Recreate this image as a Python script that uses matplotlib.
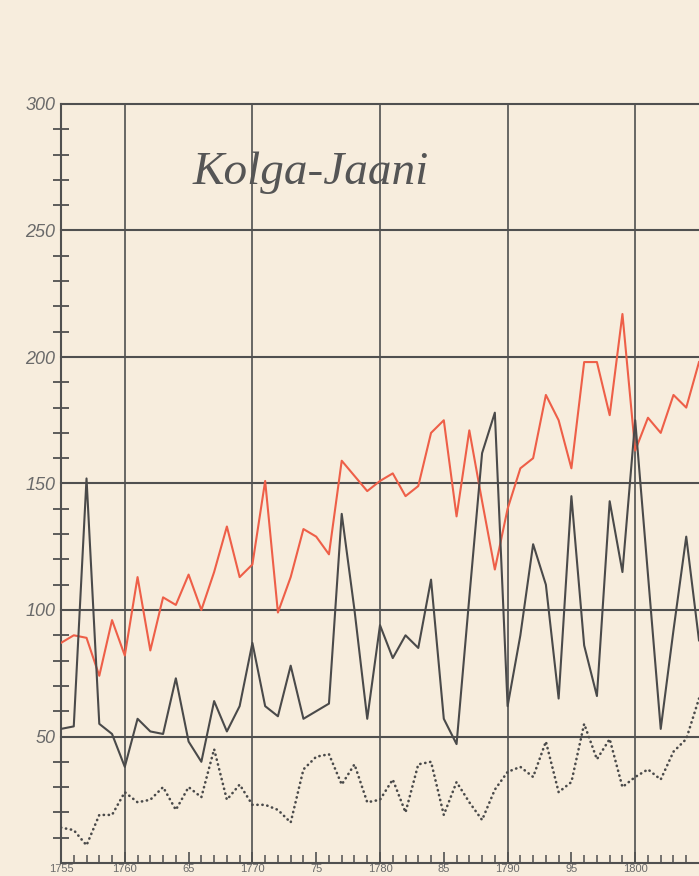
#Kolga-Jaani: yearly series 1755-1805, recreated from an old printed chart

#Libraries
import numpy as np
import matplotlib
matplotlib.use('Agg')
import matplotlib.pyplot as plt

#Data
years=list(range(1755,1806))
red=[87,90,89,74,96,82,113,84,105,102,
     114,100,115,133,113,118,151,99,113,132,
     129,122,159,153,147,151,154,145,149,170,
     175,137,171,143,116,140,156,160,185,175,
     156,198,198,177,217,163,176,170,185,180,198]
black=[53,54,152,55,51,38,57,52,51,73,
       48,40,64,52,62,87,62,58,78,57,
       60,63,138,100,57,94,81,90,85,112,
       57,47,105,162,178,62,90,126,110,65,
       145,86,66,143,115,175,114,53,92,129,88]
dotted=[14,13,7,19,19,28,24,25,30,21,
        30,26,45,25,31,23,23,21,16,37,
        42,43,31,39,24,25,33,20,39,40,
        19,32,24,17,29,36,38,34,48,28,
        32,55,41,49,30,34,37,33,44,49,65]
x_ticks=[1755,1760,1765,1770,1775,1780,1785,1790,1795,1800]
x_labels=['1755','1760','65','1770','75','1780','85','1790','95','1800']
y_ticks=[50,100,150,200,250,300]

#Colours
paper='#f7eddd'
ink='#505050'
red_ink='#ee5f48'

fig=plt.figure(figsize=(6.99,8.76),dpi=100,facecolor=paper)
ax=fig.add_axes([61/699,13/876,1-61/699,759/876])
ax.set_facecolor(paper)
ax.set_xlim(1755,1805)
ax.set_ylim(0,300)

#Grid
for y in y_ticks:
	ax.axhline(y,color=ink,lw=1.5,zorder=1,clip_on=False)
for x in range(1760,1806,10):
	ax.axvline(x,color=ink,lw=1.2,zorder=1)

#Series
ax.plot(years,red,color=red_ink,lw=1.5,zorder=3)
ax.plot(years,black,color='#4a4a4a',lw=1.5,zorder=3)
ax.plot(years,dotted,color='#4a4a4a',lw=1.9,linestyle=(0,(0.1,1.8)),
	dash_capstyle='round',zorder=3)

#Spines
for s in ['top','right']:
	ax.spines[s].set_visible(False)
ax.spines['left'].set_color(ink)
ax.spines['left'].set_linewidth(1.5)
ax.spines['bottom'].set_color(ink)
ax.spines['bottom'].set_linewidth(1.5)

#Y ticks
ax.set_yticks(y_ticks)
ax.set_yticklabels([str(v) for v in y_ticks],fontstyle='italic',
	family='Liberation Sans',fontsize=13,color='#6a6a6a')
ax.set_yticks([v for v in range(10,300,10) if v%50!=0],minor=True)
ax.tick_params(axis='y',which='major',length=0,pad=4)
ax.tick_params(axis='y',which='minor',direction='inout',length=11,width=1.3,color=ink)

#X ticks
ax.set_xticks(x_ticks)
ax.set_xticklabels(x_labels,family='Liberation Sans',fontsize=8,color='#6a6a6a')
ax.set_xticks([v for v in range(1756,1806) if v%5!=0],minor=True)
ax.tick_params(axis='x',which='major',direction='in',length=8,width=1.2,color=ink,pad=1)
ax.tick_params(axis='x',which='minor',direction='in',length=6,width=1.1,color=ink)

#Title
ax.text(1774.6,273,'Kolga-Jaani',family='Liberation Serif',fontstyle='italic',
	fontsize=34,color='#555555',ha='center',va='center',zorder=4)

fig.savefig('out.png',dpi=100,facecolor=paper)
